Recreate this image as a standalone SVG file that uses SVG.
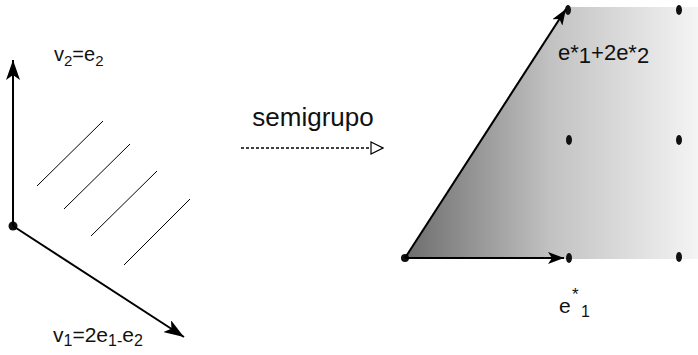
<svg xmlns="http://www.w3.org/2000/svg" width="698" height="355" viewBox="0 0 698 355">
<style>
  text { font-family: "Liberation Sans", Arial, sans-serif; fill: #111; }
  .ax { stroke: #000; stroke-width: 2; fill: none; }
  .hatch { stroke: #000; stroke-width: 1; }
  .dot { fill: #111; }
</style>
<defs>
  <marker id="ah" viewBox="0 0 20 14" refX="20" refY="7" markerWidth="20" markerHeight="14" markerUnits="userSpaceOnUse" orient="auto">
    <path d="M0,0 L20,7 L0,14 L5,7 Z" fill="#000"/>
  </marker>
  <marker id="ahs" viewBox="0 0 16 12" refX="16" refY="6" markerWidth="16" markerHeight="12" markerUnits="userSpaceOnUse" orient="auto">
    <path d="M0,0 L16,6 L0,12 L4,6 Z" fill="#000"/>
  </marker>
  <marker id="open" viewBox="0 0 14 14" refX="13" refY="7" markerWidth="14" markerHeight="14" markerUnits="userSpaceOnUse" orient="auto">
    <path d="M1,1 L13,7 L1,13 Z" fill="#fff" stroke="#000" stroke-width="1.2"/>
  </marker>
  <linearGradient id="g" gradientUnits="userSpaceOnUse" x1="404" y1="0" x2="698" y2="0">
    <stop offset="0" stop-color="#6c6c6c"/>
    <stop offset="0.5" stop-color="#c2c2c2"/>
    <stop offset="1" stop-color="#f4f4f4"/>
  </linearGradient>
</defs>

<g id="left-basis">
  <g id="hatching">
    <line class="hatch" x1="37" y1="186" x2="103" y2="121"/>
    <line class="hatch" x1="64" y1="209" x2="130" y2="144"/>
    <line class="hatch" x1="91" y1="236" x2="157" y2="171"/>
    <line class="hatch" x1="124" y1="265" x2="190" y2="199"/>
  </g>
  <circle class="dot" cx="13" cy="226" r="4.5"/>
  <text x="54" y="61" font-size="20">v<tspan font-size="15" dy="5">2</tspan><tspan dy="-5">=e</tspan><tspan font-size="15" dy="5">2</tspan></text>
  <text x="53" y="342" font-size="21">v<tspan font-size="16" dy="4">1</tspan><tspan dy="-4">=2e</tspan><tspan font-size="16" dy="4">1-</tspan><tspan dy="-4">e</tspan><tspan font-size="16" dy="4">2</tspan></text>
</g>

<g id="transform-label">
  <text x="313" y="126" font-size="26" text-anchor="middle">semigrupo</text>
</g>

<g id="right-cone">
  <polygon points="404,259 566,7 698,7 698,259" fill="url(#g)"/>
  <ellipse class="dot" cx="568" cy="10" rx="3" ry="5"/>
  <ellipse class="dot" cx="679" cy="10" rx="3" ry="5"/>
  <ellipse class="dot" cx="569" cy="140" rx="3" ry="5"/>
  <ellipse class="dot" cx="679" cy="140" rx="3" ry="5"/>
  <ellipse class="dot" cx="569" cy="258" rx="3" ry="5"/>
  <ellipse class="dot" cx="679" cy="257" rx="3" ry="5"/>
  <circle class="dot" cx="405" cy="258" r="4"/>
  <text x="558" y="60" font-size="22">e*<tspan dy="3">1</tspan><tspan dy="-3">+2e*</tspan><tspan dy="3">2</tspan></text>
  <text x="559" y="313" font-size="21">e</text>
  <text x="572" y="300" font-size="17">*</text>
  <text x="581" y="317" font-size="16">1</text>
</g>

<g id="connectors">
  <line class="ax" x1="13" y1="226" x2="13" y2="60" marker-end="url(#ah)"/>
  <line class="ax" x1="13" y1="226" x2="184" y2="337" marker-end="url(#ah)"/>
  <line x1="241" y1="148" x2="383" y2="148" stroke="#000" stroke-width="1.3" stroke-dasharray="3,2" marker-end="url(#open)"/>
  <line class="ax" x1="405" y1="258" x2="566" y2="9" marker-end="url(#ahs)"/>
  <line class="ax" x1="405" y1="258" x2="564" y2="258" stroke="#333" marker-end="url(#ahs)"/>
</g>
</svg>
